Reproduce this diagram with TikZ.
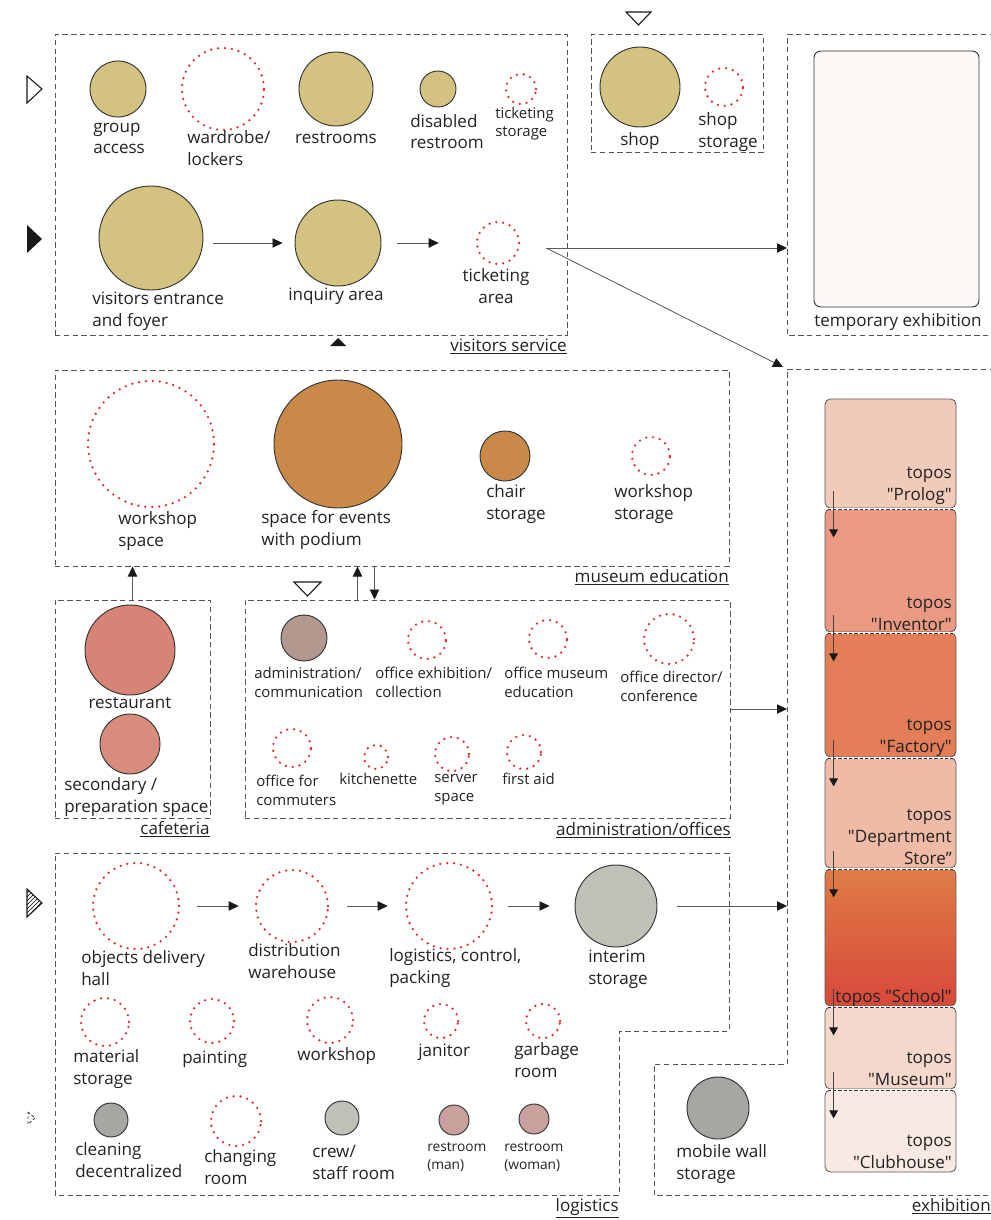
\documentclass[tikz,border=0pt]{standalone}
\usepackage{fontspec}
\setmainfont{Open Sans}
\usetikzlibrary{arrows.meta,fit,patterns,calc}
\definecolor{gold}{RGB}{212,194,128}
\definecolor{ocher}{RGB}{201,137,72}
\definecolor{cafe}{RGB}{214,132,118}
\definecolor{cafe2}{RGB}{216,140,124}
\definecolor{adm}{RGB}{178,152,142}
\definecolor{graygreen}{RGB}{190,193,183}
\definecolor{gray2}{RGB}{166,167,163}
\definecolor{rrc}{RGB}{200,160,156}
\definecolor{dotred}{RGB}{236,38,44}
\definecolor{boxgray}{RGB}{85,85,85}
\definecolor{txt}{RGB}{35,35,35}
\definecolor{tempfill}{RGB}{252,248,246}
\definecolor{tpA}{RGB}{242,202,184}
\definecolor{tpB}{RGB}{234,154,130}
\definecolor{tpC}{RGB}{227,126,88}
\definecolor{tpD}{RGB}{239,186,166}
\definecolor{tpEa}{RGB}{223,124,70}
\definecolor{tpEb}{RGB}{216,72,58}
\definecolor{tpF}{RGB}{245,216,203}
\definecolor{tpG}{RGB}{249,233,227}
\newcommand{\qq}[1]{\textquotedbl#1\textquotedbl}
\tikzset{
  rc/.style={circle, draw=black!80, line width=0.7pt, inner sep=0pt, minimum size=#1*1.5pt},
  dc/.style={circle, draw=dotred, line width=1.9pt, dash pattern=on 0pt off 5.2pt, line cap=round, inner sep=0pt, minimum size=#1*1.5pt},
  lbl/.style={font=\fontsize{12.8}{16.5}\selectfont, align=left, inner sep=0pt, text=txt},
  slbl/.style={font=\fontsize{11.2}{14}\selectfont, align=left, inner sep=0pt, text=txt},
  xslbl/.style={font=\fontsize{10.3}{12.8}\selectfont, align=left, inner sep=0pt, text=txt},
  ulbl/.style={font=\fontsize{12.8}{16.5}\selectfont, inner sep=0pt, text=txt, anchor=base east},
  tlbl/.style={font=\fontsize{12.8}{16.5}\selectfont, align=right, inner sep=0pt, text=txt, anchor=base east},
  dbox/.style={draw=boxgray, line width=0.75pt, dash pattern=on 4pt off 2.6pt, inner sep=0pt},
  arr/.style={draw=black!65, line width=0.6pt, -{Triangle[length=7.5pt,width=7pt,color=black!90]}},
  tarr/.style={draw=black!75, line width=0.6pt, -{Triangle[length=6pt,width=6.5pt,color=black!90]}},
  topos/.style={draw=black!65, line width=0.6pt, rounded corners=4pt, inner sep=0pt},
  mrk/.style={draw=black!90, line width=0.8pt},
}
\begin{document}
\begin{tikzpicture}[x=0.75pt,y=-0.75pt]
\useasboundingbox (0,0) rectangle (990,1220);
\fill[white] (0,0) rectangle (990,1220);

% ---------- boxes ----------
\node[dbox, fit={(55,35)(567,335)}] (vs) {};
\node[dbox, fit={(591,35)(763,153)}] (shopbox) {};
\draw[dbox] (995,35) -- (787,35) -- (787,335) -- (995,335);
\node[dbox, fit={(55,370)(729,566)}] (me) {};
\node[dbox, fit={(55,600)(210,818)}] (caf) {};
\node[dbox, fit={(245,600)(730,818)}] (adm) {};
\draw[dbox] (55,853) -- (729,853) -- (729,1031) -- (619,1031) -- (619,1195) -- (55,1195) -- cycle;
\draw[dbox] (995,369) -- (787,369) -- (787,1064) -- (654,1064) -- (654,1195) -- (995,1195);
\coordinate (tempW) at (787,248);
\coordinate (exhTL) at (783,367);
\coordinate (exhW) at (787,906);

% box labels
\node[ulbl] (vs-l) at (567,351) {\underline{visitors service}};
\node[ulbl] (me-l) at (729,582) {\underline{museum education}};
\node[ulbl] (caf-l) at (210,834) {\underline{cafeteria}};
\node[ulbl] (adm-l) at (731,835) {\underline{administration/offices}};
\node[ulbl] (log-l) at (619,1211) {\underline{logistics}};
\node[ulbl] (exh-l) at (991,1211) {\underline{exhibition}};

% ---------- markers ----------
\draw[mrk, fill=white] (27,76) -- (42,89) -- (27,103) -- cycle;
\fill[black!90] (27,225) -- (42,239) -- (27,253) -- cycle;
\draw[mrk, pattern=north east lines] (27,889) -- (42,903) -- (27,917) -- cycle;
\draw[black!80, line width=0.6pt, dash pattern=on 2pt off 1.5pt] (28,1112) -- (35,1118) -- (28,1124) -- cycle;
\fill[black!90] (330,346) -- (338,338) -- (346,346) -- cycle;
\draw[mrk] (626,12) -- (651,12) -- (638.5,25) -- cycle;
\draw[mrk] (294,582) -- (321,582) -- (307.5,596) -- cycle;

% ---------- visitors service ----------
\node[rc=28, fill=gold] (ga) at (118,89) {};
\node[lbl, anchor=base west] (ga-l) at (93,154) {group\\access};
\node[dc=41] (wl) at (223,89) {};
\node[lbl, anchor=base west] (wl-l) at (187,166) {wardrobe/\\lockers};
\node[rc=37, fill=gold] (rs) at (336,89) {};
\node[lbl, anchor=base] (rs-l) at (336,144) {restrooms};
\node[rc=18, fill=gold] (dr) at (438,89) {};
\node[lbl, anchor=base west] (dr-l) at (410,149) {disabled\\restroom};
\node[dc=15] (ts) at (521,89) {};
\node[slbl, anchor=base west] (ts-l) at (495,137) {ticketing\\storage};
\node[rc=52, fill=gold] (foyer) at (151,238) {};
\node[lbl, anchor=base west] (foyer-l) at (92,326) {visitors entrance\\and foyer};
\node[rc=43, fill=gold] (inq) at (338,243) {};
\node[lbl, anchor=base] (inq-l) at (336,300) {inquiry area};
\node[dc=21] (ta) at (498,243) {};
\node[lbl, anchor=base, align=center] (ta-l) at (496,303) {ticketing\\area};

\draw[arr] ($(foyer.east |- inq)+(10,0)$) -- ($(inq.west)+(-12,0)$);
\draw[arr] ($(inq.east)+(16,0)$) -- ($(ta.west)+(-37,0)$);
\draw[arr] ($(ta.east)+(26,5)$) -- (tempW);
\draw[arr] ($(ta.east)+(26,5)$) -- (exhTL);

% ---------- shop ----------
\node[rc=40, fill=gold] (shop) at (640,87) {};
\node[lbl, anchor=base] (shop-l) at (640,146) {shop};
\node[dc=19] (ss) at (724,87) {};
\node[lbl, anchor=base west] (ss-l) at (698,147) {shop\\storage};

% ---------- temporary exhibition ----------
\node[draw=black!80, line width=0.7pt, rounded corners=5pt, fill=tempfill, inner sep=0pt, fit={(814,51)(979,307)}] (tempx) {};
\node[lbl, anchor=base] (tempx-l) at (898,326) {temporary exhibition};

% ---------- museum education ----------
\node[dc=63] (wsp) at (151,444) {};
\node[lbl, anchor=base west] (wsp-l) at (118,546) {workshop\\space};
\node[rc=64, fill=ocher] (ev) at (338,444) {};
\node[lbl, anchor=base west] (ev-l) at (261,545) {space for events\\with podium};
\node[rc=25, fill=ocher] (cs) at (505,456) {};
\node[lbl, anchor=base west] (cs-l) at (486,519) {chair\\storage};
\node[dc=19] (wst) at (651,456) {};
\node[lbl, anchor=base west] (wst-l) at (614,519) {workshop\\storage};

\draw[arr] (caf.north) -- (caf.north |- me.south);
\draw[arr] ($(adm.north west)+(113,0)$) -- ($(me.south west)+(303,0)$);
\draw[arr] ($(me.south west)+(320,0)$) -- ($(adm.north west)+(130,0)$);

% ---------- cafeteria ----------
\node[rc=45, fill=cafe] (rest) at (130,650) {};
\node[lbl, anchor=base] (rest-l) at (130,708) {restaurant};
\node[rc=30, fill=cafe2] (sec) at (130,744) {};
\node[lbl, anchor=base west] (sec-l) at (64,812) {secondary /\\preparation space};

% ---------- administration ----------
\node[rc=23, fill=adm] (ac) at (304,638) {};
\node[slbl, anchor=base west] (ac-l) at (254,697) {administration/\\communication};
\node[dc=19] (oe) at (427,640) {};
\node[slbl, anchor=base west] (oe-l) at (375,697) {office exhibition/\\collection};
\node[dc=19] (om) at (548,639) {};
\node[slbl, anchor=base west] (om-l) at (504,697) {office museum\\education};
\node[dc=25] (od) at (669,639) {};
\node[slbl, anchor=base west] (od-l) at (620,701) {office director/\\conference};
\node[dc=19] (oc) at (292,748) {};
\node[slbl, anchor=base west] (oc-l) at (256,805) {office for\\commuters};
\node[dc=12] (kit) at (376,757) {};
\node[slbl, anchor=base west] (kit-l) at (339,784) {kitchenette};
\node[dc=17] (srv) at (452,754) {};
\node[slbl, anchor=base west] (srv-l) at (434,801) {server\\space};
\node[dc=17] (fa) at (524,752) {};
\node[slbl, anchor=base west] (fa-l) at (502,784) {first aid};

\draw[arr] (adm.east) -- (adm.east -| exhW);

% ---------- logistics ----------
\node[dc=43] (odh) at (136,906) {};
\node[lbl, anchor=base west] (odh-l) at (81,985) {objects delivery\\hall};
\node[dc=36] (dw) at (292,906) {};
\node[lbl, anchor=base west] (dw-l) at (248,978) {distribution\\warehouse};
\node[dc=43] (lcp) at (449,906) {};
\node[lbl, anchor=base west] (lcp-l) at (389,983) {logistics, control,\\packing};
\node[rc=41, fill=graygreen] (is) at (616,906) {};
\node[lbl, anchor=base west] (is-l) at (588,984) {interim\\storage};

\draw[arr] ($(odh.east)+(17,0)$) -- ($(dw.west)+(-16,0)$);
\draw[arr] ($(dw.east)+(18,0)$) -- ($(lcp.west)+(-17,0)$);
\draw[arr] ($(lcp.east)+(15,0)$) -- ($(is.west)+(-25,0)$);
\draw[arr] ($(is.east)+(20,0)$) -- (exhW);

\node[dc=24] (ms) at (105,1022) {};
\node[lbl, anchor=base west] (ms-l) at (73,1084) {material\\storage};
\node[dc=22] (pt) at (212,1021) {};
\node[lbl, anchor=base west] (pt-l) at (182,1063) {painting};
\node[dc=23] (wk) at (330,1020) {};
\node[lbl, anchor=base west] (wk-l) at (297,1060) {workshop};
\node[dc=17] (jn) at (441,1021) {};
\node[lbl, anchor=base west] (jn-l) at (418,1056) {janitor};
\node[dc=17] (gr) at (543,1021) {};
\node[lbl, anchor=base west] (gr-l) at (514,1077) {garbage\\room};

\node[rc=17, fill=gray2] (cd) at (111,1120) {};
\node[lbl, anchor=base west] (cd-l) at (75,1177) {cleaning\\decentralized};
\node[dc=25] (cr) at (236,1121) {};
\node[lbl, anchor=base west] (cr-l) at (204,1184) {changing\\room};
\node[rc=17, fill=graygreen] (crew) at (342,1118) {};
\node[lbl, anchor=base west] (crew-l) at (312,1179) {crew/\\staff room};
\node[rc=15, fill=rrc] (rm) at (454,1120) {};
\node[xslbl, anchor=base west] (rm-l) at (427,1169) {restroom\\(man)};
\node[rc=15, fill=rrc] (rw) at (534,1119) {};
\node[xslbl, anchor=base west] (rw-l) at (504,1169) {restroom\\(woman)};

% ---------- exhibition ----------
\node[rc=31, fill=gray2] (mw) at (718,1108) {};
\node[lbl, anchor=base west] (mw-l) at (676,1179) {mobile wall\\storage};

\node[topos, fill=tpA, fit={(825,399)(956,508)}] (t1) {};
\node[topos, fill=tpB, fit={(825,509)(956,632)}] (t2) {};
\node[topos, fill=tpC, fit={(825,633)(956,757)}] (t3) {};
\node[topos, fill=tpD, fit={(825,758)(956,868)}] (t4) {};
\node[topos, top color=tpEa, bottom color=tpEb, fit={(825,869)(956,1006)}] (t5) {};
\node[topos, fill=tpF, fit={(825,1007)(956,1089)}] (t6) {};
\node[topos, fill=tpG, fit={(825,1090)(956,1172)}] (t7) {};
\foreach \a/\b in {t1/t2,t2/t3,t3/t4,t4/t5,t5/t6,t6/t7}{
  \draw[white, line width=1.2pt] ($(\a.south west)+(3,0.5)$) -- ($(\a.south east)+(-3,0.5)$);
  \draw[black!80, line width=0.6pt, dash pattern=on 2.5pt off 1.5pt] ($(\a.south west)+(3,0.5)$) -- ($(\a.south east)+(-3,0.5)$);
  \draw[tarr] ($(\a.south west)+(9,-17)$) -- ($(\a.south west)+(9,29)$);
}
\node[tlbl] (t1-l) at (952,500) {topos\\\qq{Prolog}};
\node[tlbl] (t2-l) at (952,630) {topos\\\qq{Inventor}};
\node[tlbl] (t3-l) at (952,752) {topos\\\qq{Factory}};
\node[tlbl] (t4-l) at (952,864) {topos\\\textquotedbl Department\\Store”};
\node[tlbl] (t5-l) at (952,1002) {topos \qq{School}};
\node[tlbl] (t6-l) at (952,1085) {topos\\\qq{Museum}};
\node[tlbl] (t7-l) at (952,1168) {topos\\\qq{Clubhouse}};
\end{tikzpicture}
\end{document}
